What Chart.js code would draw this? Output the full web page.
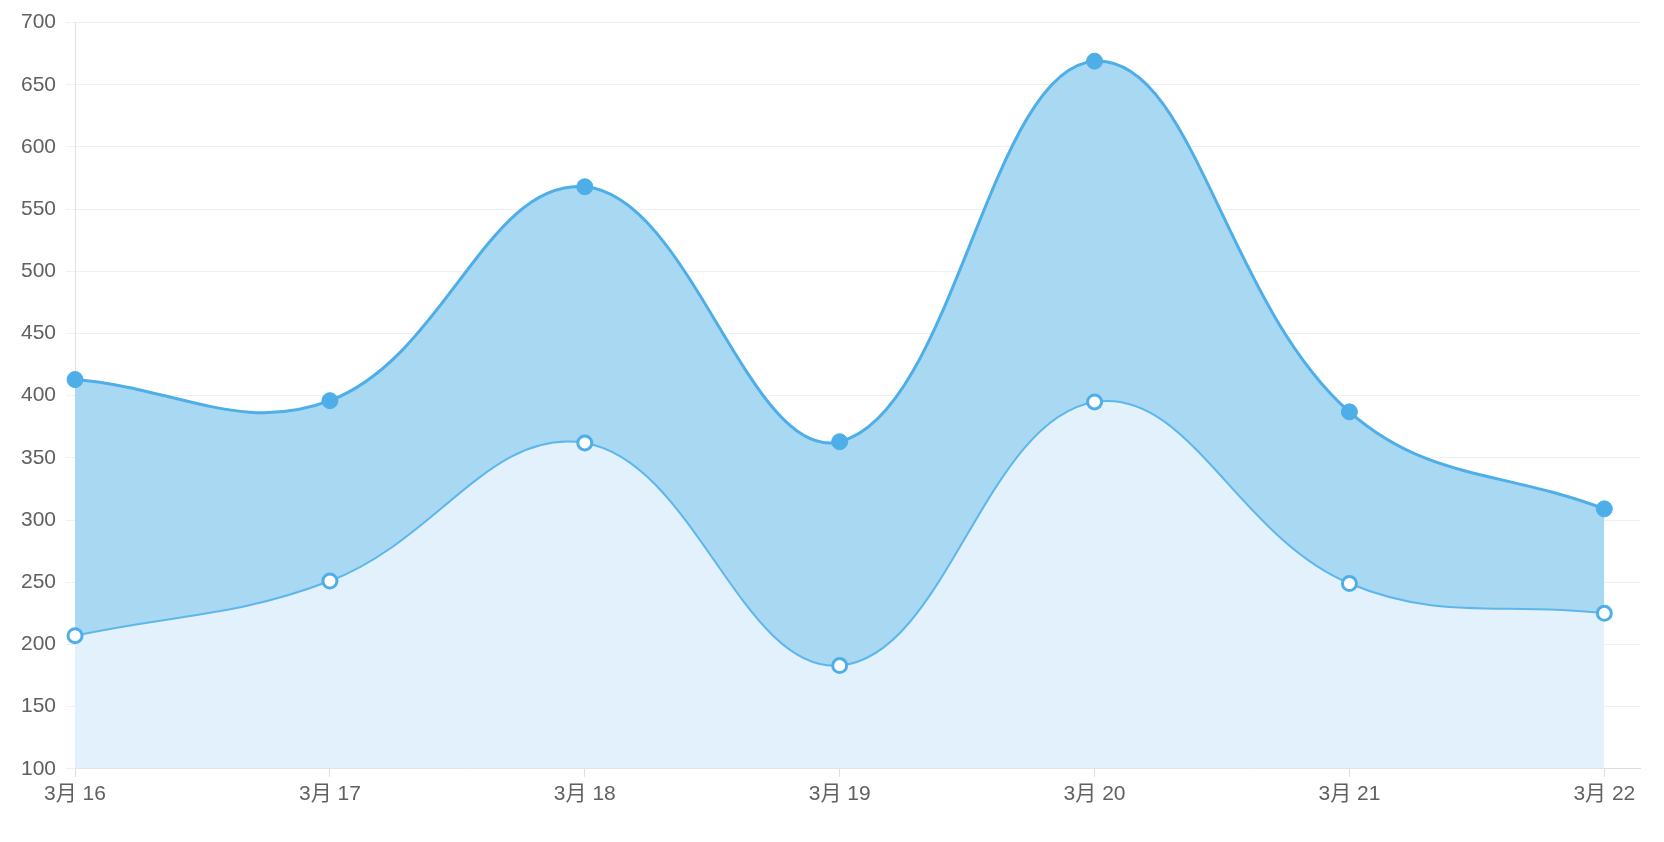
<!DOCTYPE html>
<html lang="zh">
  <head>
    <meta charset="UTF-8" />
    <title>Area chart</title>
    <style>
      * {
        box-sizing: border-box;
        margin: 0;
        padding: 0;
      }
      body {
        background: #fff;
        width: 1664px;
        height: 842px;
        overflow: hidden;
      }
    </style>
  </head>
  <body>
    <canvas id="chart" width="1664" height="842"></canvas>

    <script src="https://cdn.jsdelivr.net/npm/chart.js"></script>
    <script>
      const dayLabels = ["3月 16", "3月 17", "3月 18", "3月 19", "3月 20", "3月 21", "3月 22"];
      const upperValues = [413, 396, 568, 363, 669, 387, 309];
      const lowerValues = [207, 251, 362, 183, 395, 249, 225];
      const yTicks = [100, 150, 200, 250, 300, 350, 400, 450, 500, 550, 600, 650, 700];

      const toPoints = (vals) => vals.map((v, i) => ({ x: i, y: v }));
      const font = { family: "'Liberation Sans', Arial, 'Noto Sans CJK SC', sans-serif", size: 21 };

      new Chart(document.getElementById("chart").getContext("2d"), {
        type: "line",
        data: {
          datasets: [
            {
              data: toPoints(upperValues),
              borderColor: "#4daee8",
              backgroundColor: "#a9d8f3",
              borderWidth: 3,
              fill: "+1",
              tension: 0.4,
              clip: false,
              pointRadius: 8,
              pointBackgroundColor: "#4daee8",
              pointBorderColor: "#4daee8",
              pointBorderWidth: 1,
            },
            {
              data: toPoints(lowerValues),
              borderColor: "#5db7ec",
              backgroundColor: "#e3f1fc",
              borderWidth: 2,
              fill: "origin",
              tension: 0.4,
              clip: false,
              pointRadius: 7,
              pointBackgroundColor: "#ffffff",
              pointBorderColor: "#4daee8",
              pointBorderWidth: 3,
            },
          ],
        },
        options: {
          responsive: false,
          animation: false,
          layout: { padding: { top: 10, right: 24, bottom: 30, left: 11 } },
          plugins: {
            legend: { display: false },
            tooltip: { enabled: false },
            filler: { drawTime: "beforeDatasetsDraw" },
          },
          scales: {
            x: {
              type: "linear",
              min: 0,
              max: 6.14,
              grid: {
                drawOnChartArea: false,
                color: "#dddddd",
                tickLength: 8,
              },
              border: { color: "#dddddd" },
              ticks: {
                stepSize: 1,
                includeBounds: false,
                autoSkip: false,
                maxRotation: 0,
                padding: 5,
                color: "#606060",
                font: font,
                callback: (v) => (Number.isInteger(v) ? dayLabels[v] : ""),
              },
            },
            y: {
              min: yTicks[0],
              max: yTicks[yTicks.length - 1],
              grid: { color: "#f0f0f0", tickLength: 9 },
              border: { color: "#e2e2e2" },
              afterBuildTicks: (axis) => {
                axis.ticks = yTicks.map((v) => ({ value: v }));
              },
              ticks: {
                padding: 10,
                color: "#606060",
                font: font,
              },
            },
          },
        },
      });
    </script>
  </body>
</html>
